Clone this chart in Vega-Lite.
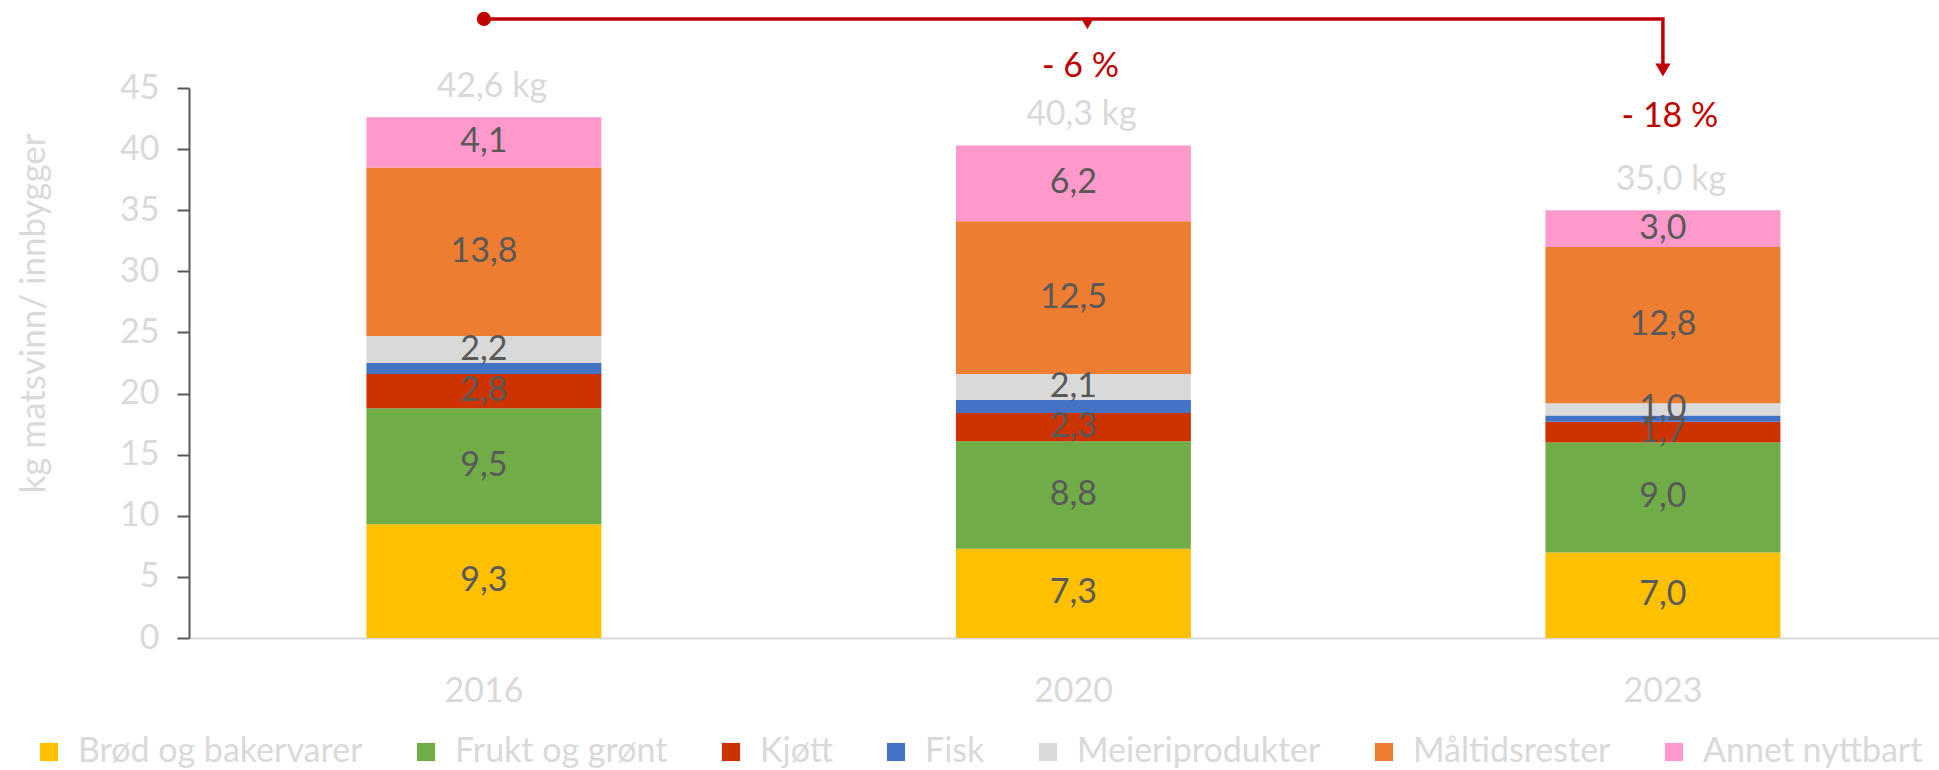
{
  "$schema": "https://vega.github.io/schema/vega-lite/v6.json",
  "width": 1750,
  "height": 550,
  "autosize": {"type": "none"},
  "padding": {"left": 189, "top": 88, "right": 0, "bottom": 132},
  "datasets": {
    "main": [
      {"year": "2016", "cat": "Brød og bakervarer", "k": 1, "kg": 9.3},
      {"year": "2016", "cat": "Frukt og grønt", "k": 2, "kg": 9.5},
      {"year": "2016", "cat": "Kjøtt", "k": 3, "kg": 2.8},
      {"year": "2016", "cat": "Fisk", "k": 4, "kg": 0.9},
      {"year": "2016", "cat": "Meieriprodukter", "k": 5, "kg": 2.2},
      {"year": "2016", "cat": "Måltidsrester", "k": 6, "kg": 13.8},
      {"year": "2016", "cat": "Annet nyttbart", "k": 7, "kg": 4.1},
      {"year": "2020", "cat": "Brød og bakervarer", "k": 1, "kg": 7.3},
      {"year": "2020", "cat": "Frukt og grønt", "k": 2, "kg": 8.8},
      {"year": "2020", "cat": "Kjøtt", "k": 3, "kg": 2.3},
      {"year": "2020", "cat": "Fisk", "k": 4, "kg": 1.1},
      {"year": "2020", "cat": "Meieriprodukter", "k": 5, "kg": 2.1},
      {"year": "2020", "cat": "Måltidsrester", "k": 6, "kg": 12.5},
      {"year": "2020", "cat": "Annet nyttbart", "k": 7, "kg": 6.2},
      {"year": "2023", "cat": "Brød og bakervarer", "k": 1, "kg": 7.0},
      {"year": "2023", "cat": "Frukt og grønt", "k": 2, "kg": 9.0},
      {"year": "2023", "cat": "Kjøtt", "k": 3, "kg": 1.7},
      {"year": "2023", "cat": "Fisk", "k": 4, "kg": 0.5},
      {"year": "2023", "cat": "Meieriprodukter", "k": 5, "kg": 1.0},
      {"year": "2023", "cat": "Måltidsrester", "k": 6, "kg": 12.8},
      {"year": "2023", "cat": "Annet nyttbart", "k": 7, "kg": 3.0}
    ],
    "arrow": [
      {"year": "2016", "y": 50.65, "s": 1},
      {"year": "2023", "y": 50.65, "s": 2},
      {"year": "2023", "y": 46.8, "s": 3}
    ],
    "pct": [
      {"year": "2020", "y": 46.75, "label": "- 6 %"},
      {"year": "2023", "y": 42.6, "label": "- 18 %"}
    ],
    "mid": [
      {"year": "2020", "y": 50.2}
    ]
  },
  "config": {
    "font": "Lato",
    "view": {"stroke": null},
    "locale": {
      "number": {"decimal": ",", "thousands": " ", "grouping": [3], "currency": ["", " kg"]}
    }
  },
  "layer": [
    {
      "data": {"name": "main"},
      "mark": {"type": "bar"},
      "encoding": {
        "x": {
          "field": "year", "type": "nominal",
          "scale": {"paddingInner": 0.6014, "paddingOuter": 0.285, "align": 0.528},
          "axis": {
            "title": null, "labelAngle": 0, "ticks": false,
            "domainColor": "#d9d9d9", "domainWidth": 2,
            "labelColor": "#d9d9d9", "labelFontSize": 34, "labelPadding": 36
          }
        },
        "y": {
          "field": "kg", "type": "quantitative", "stack": "zero",
          "scale": {"domain": [0, 45], "nice": false},
          "axis": {
            "title": "kg matsvinn/ innbygger",
            "values": [0, 5, 10, 15, 20, 25, 30, 35, 40, 45],
            "grid": false,
            "domainColor": "#595959", "domainWidth": 2,
            "tickColor": "#595959", "tickWidth": 2, "tickSize": 12,
            "labelColor": "#d9d9d9", "labelFontSize": 34, "labelPadding": 18,
            "titleColor": "#d9d9d9", "titleFontSize": 35, "titleFontWeight": "normal",
            "titleAngle": 270, "titleAlign": "center", "titleBaseline": "middle",
            "titleX": -156, "titleY": 225
          }
        },
        "order": {"field": "k", "type": "quantitative"},
        "color": {
          "field": "cat", "type": "nominal",
          "scale": {
            "domain": ["Brød og bakervarer", "Frukt og grønt", "Kjøtt", "Fisk", "Meieriprodukter", "Måltidsrester", "Annet nyttbart"],
            "range": ["#FFC000", "#70AD47", "#CC3300", "#4472C4", "#D9D9D9", "#ED7D31", "#FF99CC"]
          },
          "legend": {
            "title": null, "orient": "none", "direction": "horizontal",
            "legendX": -157, "legendY": 647,
            "symbolType": "square", "symbolSize": 330, "symbolStrokeWidth": 0,
            "labelFontSize": 34, "labelColor": "#d9d9d9", "labelLimit": 500,
            "labelOffset": 12, "columnPadding": 46
          }
        }
      }
    },
    {
      "data": {"name": "main"},
      "transform": [
        {"stack": "kg", "groupby": ["year"], "sort": [{"field": "k", "order": "ascending"}], "as": ["y0", "y1"]},
        {"filter": "datum.cat !== 'Fisk'"},
        {"fold": ["y0", "y1"], "as": ["end", "pos"]}
      ],
      "mark": {"type": "text", "fontSize": 34, "color": "#595959", "baseline": "middle"},
      "encoding": {
        "x": {"field": "year", "type": "nominal"},
        "y": {"aggregate": "mean", "field": "pos", "type": "quantitative", "scale": {"domain": [0, 45], "nice": false}},
        "detail": {"field": "cat", "type": "nominal"},
        "text": {"field": "kg", "type": "quantitative", "format": ".1f"}
      }
    },
    {
      "data": {"name": "main"},
      "mark": {"type": "text", "fontSize": 34, "color": "#d9d9d9", "baseline": "middle", "dy": -30, "dx": 8},
      "encoding": {
        "x": {"field": "year", "type": "nominal"},
        "y": {"aggregate": "sum", "field": "kg", "type": "quantitative", "scale": {"domain": [0, 45], "nice": false}},
        "text": {"aggregate": "sum", "field": "kg", "type": "quantitative", "format": "$.1f"}
      }
    },
    {
      "data": {"name": "pct"},
      "mark": {"type": "text", "fontSize": 34, "color": "#C00000", "baseline": "middle", "dx": 7},
      "encoding": {
        "x": {"field": "year", "type": "nominal"},
        "y": {"field": "y", "type": "quantitative", "scale": {"domain": [0, 45], "nice": false}},
        "text": {"field": "label", "type": "nominal"}
      }
    },
    {
      "data": {"name": "arrow"},
      "mark": {"type": "line", "color": "#C00000", "strokeWidth": 3.5},
      "encoding": {
        "x": {"field": "year", "type": "nominal"},
        "y": {"field": "y", "type": "quantitative", "scale": {"domain": [0, 45], "nice": false}},
        "order": {"field": "s", "type": "quantitative"}
      }
    },
    {
      "data": {"name": "arrow"},
      "transform": [{"filter": "datum.s === 1"}],
      "mark": {"type": "point", "shape": "circle", "filled": true, "opacity": 1, "color": "#C00000", "size": 200},
      "encoding": {
        "x": {"field": "year", "type": "nominal"},
        "y": {"field": "y", "type": "quantitative", "scale": {"domain": [0, 45], "nice": false}}
      }
    },
    {
      "data": {"name": "arrow"},
      "transform": [{"filter": "datum.s === 3"}],
      "mark": {"type": "point", "shape": "triangle-down", "filled": true, "opacity": 1, "color": "#C00000", "size": 230, "yOffset": 4},
      "encoding": {
        "x": {"field": "year", "type": "nominal"},
        "y": {"field": "y", "type": "quantitative", "scale": {"domain": [0, 45], "nice": false}}
      }
    },
    {
      "data": {"name": "mid"},
      "mark": {"type": "point", "shape": "triangle-down", "filled": true, "opacity": 1, "color": "#C00000", "size": 120, "xOffset": 14},
      "encoding": {
        "x": {"field": "year", "type": "nominal"},
        "y": {"field": "y", "type": "quantitative", "scale": {"domain": [0, 45], "nice": false}}
      }
    }
  ]
}
